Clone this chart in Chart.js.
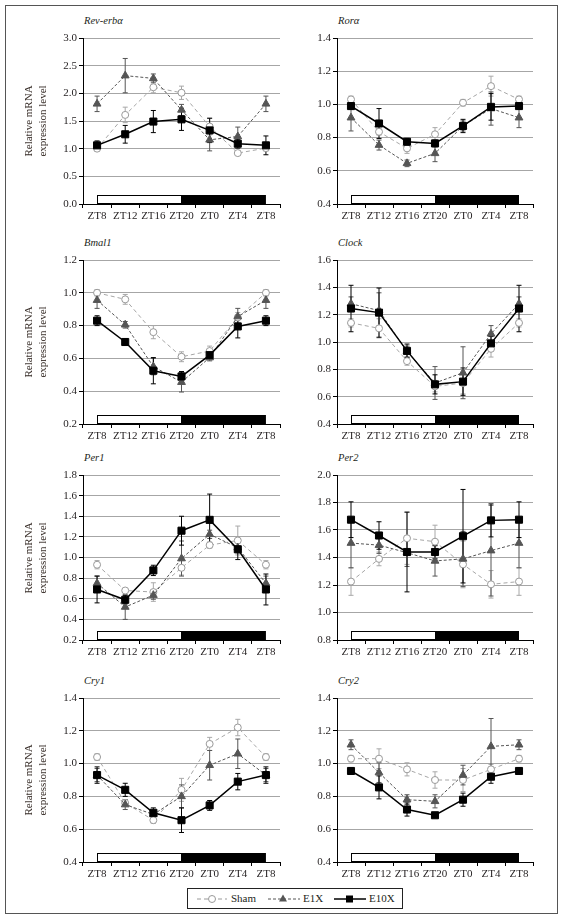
<!DOCTYPE html>
<html>
<head>
<meta charset="utf-8">
<script src="https://cdn.jsdelivr.net/npm/chart.js@4.4.0/dist/chart.umd.min.js"></script>
<style>
  body { margin: 0; background: #fff; }
  #page { position: relative; width: 563px; height: 920px; font-family: 'Liberation Serif', 'DejaVu Serif', serif; color: #231f20; }
  #frame { position: absolute; left: 5px; top: 5px; width: 553px; height: 909px; border: 1px solid #555; box-sizing: border-box; }
  canvas { position: absolute; }
  .gene { position: absolute; font-style: italic; font-size: 10.5px; line-height: 14px; white-space: nowrap; }
  .ylab { position: absolute; width: 170px; text-align: center; font-size: 11px; line-height: 14px; transform: rotate(-90deg); color: #3a302b; }
  #legend { position: absolute; left: 187px; top: 888px; width: 216px; height: 21px; border: 1px solid #222; box-sizing: border-box; font-size: 11px; }
  #legend span { position: absolute; top: 3px; }
  #legend svg { position: absolute; top: 0; }
</style>
</head>
<body>
<div id="page">
  <div id="frame"></div>
  <div id="legend">
    <svg style="left:9px" width="30" height="19"><line x1="0" y1="10" x2="30" y2="10" stroke="#999" stroke-dasharray="4,3"/><circle cx="15" cy="10" r="3.5" fill="#fff" stroke="#999"/></svg>
    <span style="left:43px">Sham</span>
    <svg style="left:80px" width="32" height="19"><line x1="0" y1="10" x2="32" y2="10" stroke="#555" stroke-dasharray="3,2"/><polygon points="15,5.5 19,12.5 11,12.5" fill="#555"/></svg>
    <span style="left:115px">E1X</span>
    <svg style="left:146px" width="32" height="19"><line x1="0" y1="10" x2="32" y2="10" stroke="#000" stroke-width="1.5"/><rect x="12" y="6.5" width="7" height="7" fill="#000"/></svg>
    <span style="left:181px">E10X</span>
  </div>
</div>
<script>
const xLabels = ['ZT8', 'ZT12', 'ZT16', 'ZT20', 'ZT0', 'ZT4', 'ZT8'];
const seriesNames = ['Sham', 'E1X', 'E10X'];

// y axis: [min, max, step]
const revAxis = [0, 3, 0.5];
const revSham = [1.00, 1.61, 2.11, 2.01, 1.40, 0.92, 1.01];
const revShamErr = [0.05, 0.14, 0.10, 0.12, 0.15, 0.03, 0.05];
const revE1X = [1.81, 2.32, 2.27, 1.70, 1.16, 1.22, 1.81];
const revE1XErr = [0.14, 0.31, 0.08, 0.10, 0.20, 0.17, 0.14];
const revE10X = [1.06, 1.26, 1.49, 1.53, 1.33, 1.09, 1.06];
const revE10XErr = [0.08, 0.16, 0.20, 0.20, 0.22, 0.08, 0.17];

const roraAxis = [0.4, 1.4, 0.2];
const roraSham = [1.03, 0.835, 0.735, 0.82, 1.01, 1.11, 1.03];
const roraShamErr = [0.02, 0.02, 0.03, 0.04, 0.02, 0.06, 0.02];
const roraE1X = [0.92, 0.755, 0.645, 0.705, 0.87, 0.975, 0.92];
const roraE1XErr = [0.08, 0.03, 0.02, 0.05, 0.03, 0.10, 0.06];
const roraE10X = [0.99, 0.885, 0.775, 0.765, 0.87, 0.985, 0.99];
const roraE10XErr = [0.02, 0.09, 0.02, 0.02, 0.04, 0.08, 0.02];

const bmalAxis = [0.2, 1.2, 0.2];
const bmalSham = [1.00, 0.96, 0.76, 0.61, 0.645, 0.85, 1.00];
const bmalShamErr = [0.02, 0.03, 0.04, 0.03, 0.03, 0.03, 0.02];
const bmalE1X = [0.955, 0.805, 0.55, 0.455, 0.605, 0.855, 0.955];
const bmalE1XErr = [0.05, 0.02, 0.05, 0.06, 0.02, 0.05, 0.05];
const bmalE10X = [0.83, 0.70, 0.525, 0.49, 0.62, 0.795, 0.83];
const bmalE10XErr = [0.03, 0.02, 0.08, 0.03, 0.02, 0.07, 0.03];

const clockAxis = [0.4, 1.6, 0.2];
const clockSham = [1.14, 1.10, 0.86, 0.675, 0.70, 0.95, 1.14];
const clockShamErr = [0.03, 0.07, 0.03, 0.04, 0.08, 0.06, 0.03];
const clockE1X = [1.28, 1.23, 0.93, 0.70, 0.775, 1.06, 1.28];
const clockE1XErr = [0.05, 0.13, 0.04, 0.12, 0.19, 0.06, 0.05];
const clockE10X = [1.245, 1.215, 0.935, 0.69, 0.71, 0.99, 1.245];
const clockE10XErr = [0.17, 0.18, 0.05, 0.07, 0.10, 0.05, 0.17];

const per1Axis = [0.2, 1.8, 0.2];
const per1Sham = [0.93, 0.68, 0.665, 0.90, 1.12, 1.165, 0.93];
const per1ShamErr = [0.04, 0.02, 0.09, 0.07, 0.03, 0.14, 0.04];
const per1E1X = [0.75, 0.52, 0.635, 0.99, 1.225, 1.095, 0.75];
const per1E1XErr = [0.07, 0.12, 0.04, 0.17, 0.04, 0.05, 0.07];
const per1E10X = [0.69, 0.59, 0.875, 1.26, 1.365, 1.08, 0.69];
const per1E10XErr = [0.13, 0.04, 0.05, 0.14, 0.25, 0.10, 0.15];

const per2Axis = [0.8, 2.0, 0.2];
const per2Sham = [1.225, 1.39, 1.54, 1.515, 1.35, 1.205, 1.225];
const per2ShamErr = [0.10, 0.05, 0.19, 0.12, 0.17, 0.10, 0.10];
const per2E1X = [1.505, 1.49, 1.435, 1.375, 1.39, 1.45, 1.505];
const per2E1XErr = [0.18, 0.06, 0.10, 0.11, 0.20, 0.33, 0.18];
const per2E10X = [1.675, 1.56, 1.44, 1.44, 1.555, 1.67, 1.675];
const per2E10XErr = [0.13, 0.10, 0.29, 0.05, 0.34, 0.12, 0.13];

const cry1Axis = [0.4, 1.4, 0.2];
const cry1Sham = [1.04, 0.76, 0.655, 0.84, 1.12, 1.22, 1.04];
const cry1ShamErr = [0.02, 0.02, 0.02, 0.07, 0.04, 0.05, 0.02];
const cry1E1X = [0.93, 0.75, 0.69, 0.80, 0.99, 1.06, 0.93];
const cry1E1XErr = [0.04, 0.03, 0.02, 0.07, 0.09, 0.09, 0.04];
const cry1E10X = [0.93, 0.84, 0.70, 0.655, 0.745, 0.89, 0.93];
const cry1E10XErr = [0.05, 0.04, 0.03, 0.075, 0.03, 0.05, 0.05];

const cry2Axis = [0.4, 1.4, 0.2];
const cry2Sham = [1.03, 1.03, 0.965, 0.90, 0.90, 0.965, 1.03];
const cry2ShamErr = [0.02, 0.06, 0.04, 0.05, 0.07, 0.03, 0.02];
const cry2E1X = [1.115, 0.945, 0.78, 0.77, 0.93, 1.105, 1.115];
const cry2E1XErr = [0.03, 0.06, 0.03, 0.04, 0.06, 0.17, 0.03];
const cry2E10X = [0.955, 0.855, 0.72, 0.685, 0.78, 0.92, 0.955];
const cry2E10XErr = [0.02, 0.07, 0.04, 0.01, 0.04, 0.04, 0.02];

const FONT = "'Liberation Serif', 'DejaVu Serif', serif";
const page = document.getElementById('page');

// error bars under the markers
const errorBars = {
  id: 'errorBars',
  beforeDatasetsDraw(chart) {
    const ctx = chart.ctx;
    const y = chart.scales.y;
    chart.data.datasets.forEach((ds, i) => {
      const meta = chart.getDatasetMeta(i);
      ctx.save();
      ctx.strokeStyle = ds.errColor;
      ctx.lineWidth = 1;
      meta.data.forEach((pt, j) => {
        const v = ds.data[j], e = ds.err[j];
        const top = y.getPixelForValue(v + e), bot = y.getPixelForValue(v - e);
        ctx.beginPath();
        ctx.moveTo(pt.x, top); ctx.lineTo(pt.x, bot);
        ctx.moveTo(pt.x - 2.5, top); ctx.lineTo(pt.x + 2.5, top);
        ctx.moveTo(pt.x - 2.5, bot); ctx.lineTo(pt.x + 2.5, bot);
        ctx.stroke();
      });
      ctx.restore();
    });
  }
};

// light / dark bar along the bottom
const lightDark = {
  id: 'lightDark',
  beforeDatasetsDraw(chart) {
    const ctx = chart.ctx;
    const x = chart.scales.x;
    const b = chart.chartArea.bottom;
    const x0 = x.getPixelForValue(0), x1 = x.getPixelForValue(3), x2 = x.getPixelForValue(6);
    ctx.save();
    ctx.fillStyle = '#000';
    ctx.fillRect(x1, b - 9, x2 - x1, 9);
    ctx.fillStyle = '#fff';
    ctx.fillRect(x0, b - 9, x1 - x0, 9);
    ctx.strokeStyle = '#000';
    ctx.lineWidth = 1;
    ctx.strokeRect(Math.round(x0) + 0.5, b - 8.5, Math.round(x1 - x0), 8);
    ctx.restore();
  }
};

function makePanel(box, title, yLabel, axis, sham, shamErr, e1x, e1xErr, e10x, e10xErr) {
  const [pl, pt, pr, pb] = box;
  const cv = document.createElement('canvas');
  cv.width = pr - pl + 44;
  cv.height = pb - pt + 36;
  cv.style.left = (pl - 40) + 'px';
  cv.style.top = (pt - 10) + 'px';
  page.appendChild(cv);

  const t = document.createElement('div');
  t.className = 'gene';
  t.textContent = title;
  t.style.left = (pl + 1) + 'px';
  t.style.top = (pt - 24) + 'px';
  page.appendChild(t);

  if (yLabel) {
    const yl = document.createElement('div');
    yl.className = 'ylab';
    yl.innerHTML = 'Relative mRNA<br>expression level';
    yl.style.left = (35 - 85) + 'px';
    yl.style.top = ((pt + pb) / 2 - 14) + 'px';
    page.appendChild(yl);
  }

  new Chart(cv, {
    type: 'line',
    data: {
      labels: xLabels,
      datasets: [
        {
          label: seriesNames[0], data: sham, err: shamErr, errColor: '#a8a8a8', order: 2,
          borderColor: '#a6a6a6', borderWidth: 1, borderDash: [4, 3],
          pointStyle: 'circle', pointRadius: 3.5, pointBackgroundColor: '#fff',
          pointBorderColor: '#999', pointBorderWidth: 1
        },
        {
          label: seriesNames[1], data: e1x, err: e1xErr, errColor: '#555', order: 1,
          borderColor: '#555', borderWidth: 1, borderDash: [3, 2],
          pointStyle: 'triangle', pointRadius: 4.5, pointBackgroundColor: '#555',
          pointBorderColor: '#555', pointBorderWidth: 1
        },
        {
          label: seriesNames[2], data: e10x, err: e10xErr, errColor: '#000', order: 0,
          borderColor: '#000', borderWidth: 1.5,
          pointStyle: 'rect', pointRadius: 5, pointBackgroundColor: '#000',
          pointBorderColor: '#000', pointBorderWidth: 1
        }
      ]
    },
    options: {
      responsive: false,
      animation: false,
      devicePixelRatio: 1,
      layout: { padding: { top: 10, right: 4, left: 0, bottom: 0 } },
      plugins: { legend: { display: false }, tooltip: { enabled: false } },
      elements: { line: { tension: 0 } },
      scales: {
        x: {
          offset: true,
          grid: { offset: true, drawOnChartArea: false, color: '#000', tickLength: 4 },
          border: { color: '#000', width: 1, z: 1 },
          ticks: { font: { family: FONT, size: 11 }, color: '#231f20', padding: 2, maxRotation: 0, autoSkip: false },
          afterFit(s) { s.height = 26; }
        },
        y: {
          min: axis[0], max: axis[1],
          ticks: { stepSize: axis[2], font: { family: FONT, size: 11 }, color: '#231f20', padding: 2,
                   callback: v => v.toFixed(1) },
          grid: { color: '#a6a6a6', tickColor: '#000', tickLength: 4 },
          border: { color: '#000', width: 1, z: 1 },
          afterFit(s) { s.width = 40; }
        }
      }
    },
    plugins: [lightDark, errorBars]
  });
}

const col1 = [83, 282], col2 = [337, 535];
const rows = [[38, 204], [260, 424], [475, 640], [698, 862]];

makePanel([col1[0], rows[0][0], col1[1], rows[0][1]], 'Rev-erbα', true, revAxis, revSham, revShamErr, revE1X, revE1XErr, revE10X, revE10XErr);
makePanel([col2[0], rows[0][0], col2[1], rows[0][1]], 'Rorα', false, roraAxis, roraSham, roraShamErr, roraE1X, roraE1XErr, roraE10X, roraE10XErr);
makePanel([col1[0], rows[1][0], col1[1], rows[1][1]], 'Bmal1', true, bmalAxis, bmalSham, bmalShamErr, bmalE1X, bmalE1XErr, bmalE10X, bmalE10XErr);
makePanel([col2[0], rows[1][0], col2[1], rows[1][1]], 'Clock', false, clockAxis, clockSham, clockShamErr, clockE1X, clockE1XErr, clockE10X, clockE10XErr);
makePanel([col1[0], rows[2][0], col1[1], rows[2][1]], 'Per1', true, per1Axis, per1Sham, per1ShamErr, per1E1X, per1E1XErr, per1E10X, per1E10XErr);
makePanel([col2[0], rows[2][0], col2[1], rows[2][1]], 'Per2', false, per2Axis, per2Sham, per2ShamErr, per2E1X, per2E1XErr, per2E10X, per2E10XErr);
makePanel([col1[0], rows[3][0], col1[1], rows[3][1]], 'Cry1', true, cry1Axis, cry1Sham, cry1ShamErr, cry1E1X, cry1E1XErr, cry1E10X, cry1E10XErr);
makePanel([col2[0], rows[3][0], col2[1], rows[3][1]], 'Cry2', false, cry2Axis, cry2Sham, cry2ShamErr, cry2E1X, cry2E1XErr, cry2E10X, cry2E10XErr);
</script>
</body>
</html>
